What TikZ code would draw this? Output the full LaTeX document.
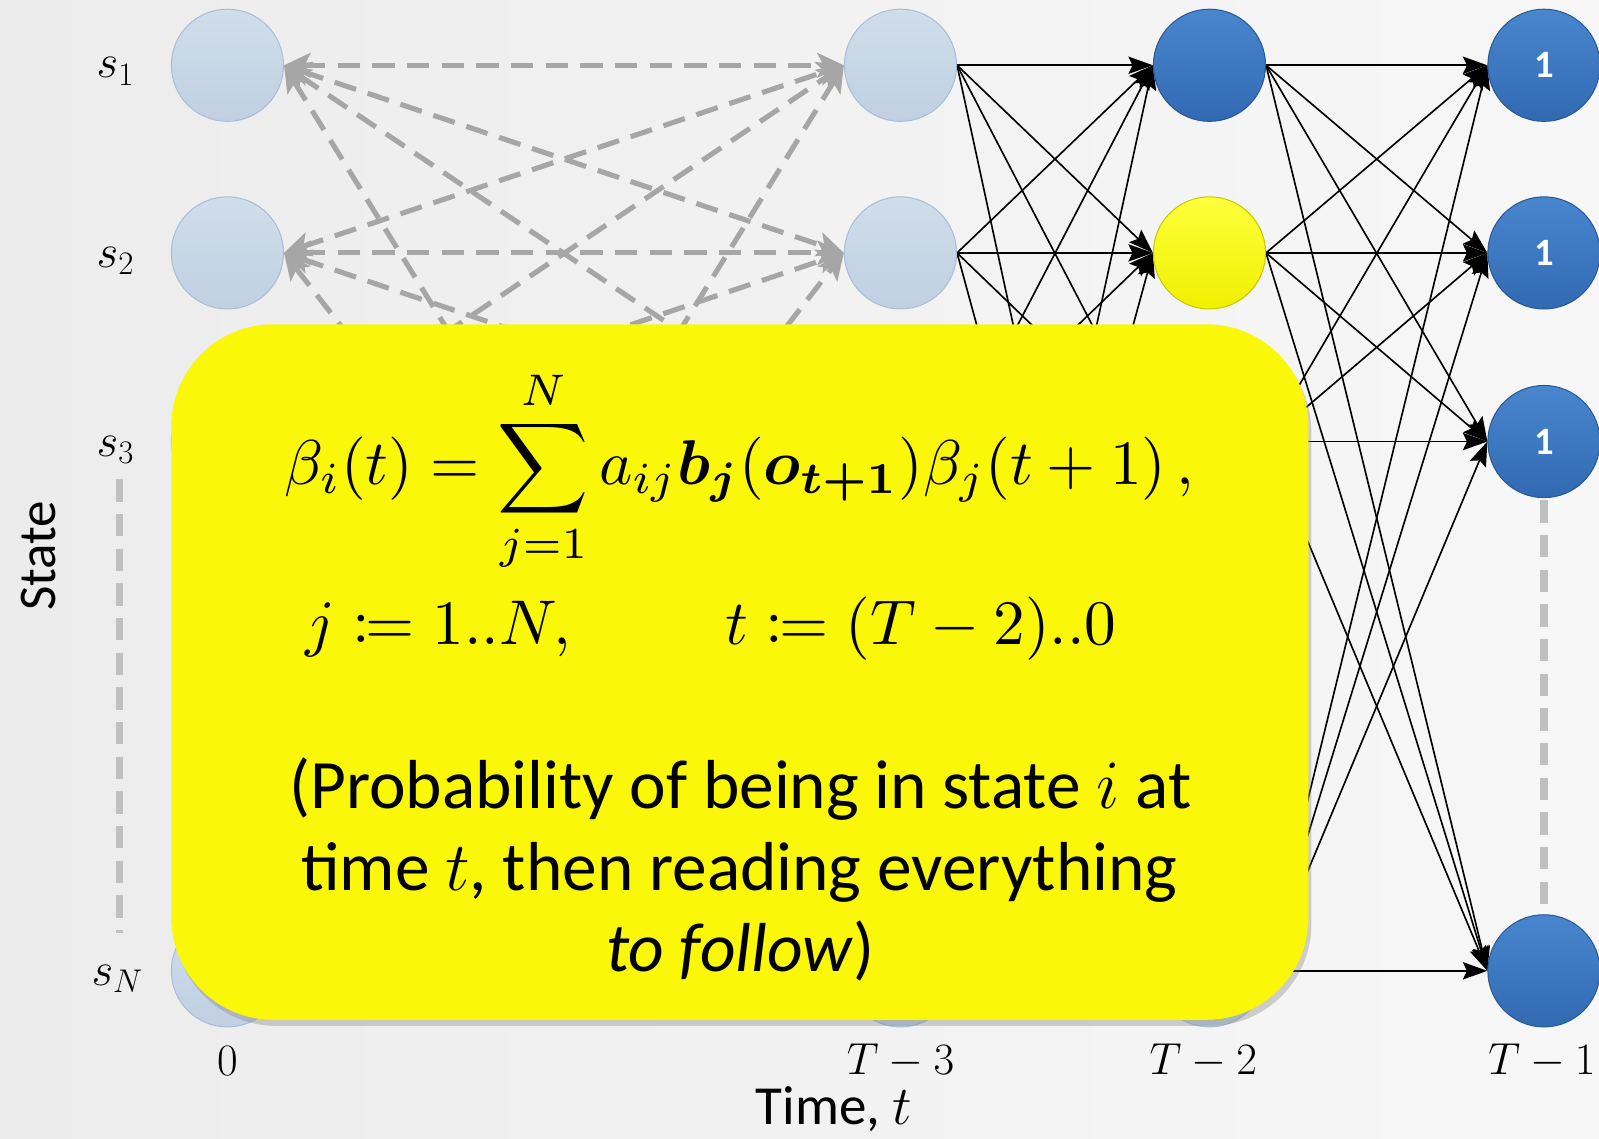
\RequirePackage{fix-cm}
\documentclass[tikz,border=0pt]{standalone}
\usepackage{amsmath,mathtools,bm}
\usepackage[no-math]{fontspec}
\setmainfont{Carlito}
\usetikzlibrary{arrows.meta,shadows}
\definecolor{bgL}{RGB}{236,236,236}
\definecolor{bgR}{RGB}{247,247,247}
\definecolor{liteT}{RGB}{208,221,234}
\definecolor{liteB}{RGB}{192,208,226}
\definecolor{liteD}{RGB}{168,190,214}
\definecolor{blueT}{RGB}{72,134,206}
\definecolor{blueB}{RGB}{50,106,178}
\definecolor{blueD}{RGB}{40,88,150}
\definecolor{yelT}{RGB}{255,255,60}
\definecolor{yelB}{RGB}{240,240,0}
\definecolor{boxY}{RGB}{250,248,8}
\definecolor{dashG}{RGB}{166,166,166}
\definecolor{vdashG}{RGB}{192,192,192}
\pgfdeclarelayer{bg}
\pgfsetlayers{bg,main}
\tikzset{
  st/.style={circle, minimum size=110pt, inner sep=0pt, line width=1pt},
  lite/.style={st, draw=liteD, top color=liteT, bottom color=liteB},
  bluen/.style={st, draw=blueD, top color=blueT, bottom color=blueB,
     font=\fontsize{38}{40}\selectfont\bfseries, text=white},
  yeln/.style={st, draw={rgb,255:red,200;green,200;blue,0}, top color=yelT, bottom color=yelB},
  gdash/.style={draw=dashG, line width=5pt, dash pattern=on 22pt off 12pt,
     {Stealth[length=26pt,width=24pt,inset=6pt]}-{Stealth[length=26pt,width=24pt,inset=6pt]}},
  barrow/.style={draw=black, line width=1.6pt, -{Stealth[length=24pt,width=17pt,inset=4pt]}},
  vdash/.style={draw=vdashG, line width=7pt, dash pattern=on 22pt off 12pt},
  slab/.style={font=\fontsize{46}{50}\selectfont},
  tlab/.style={font=\fontsize{44}{48}\selectfont},
  ybox/.style={fill=boxY, rounded corners=100pt,
     drop shadow={opacity=0.35, shadow xshift=3pt, shadow yshift=-6pt}},
  btxt/.style={anchor=base, font=\fontsize{68}{80}\selectfont},
  mtxt/.style={inner sep=0pt, scale=6.2, font=\fontsize{10}{12}\selectfont},
}
\begin{document}
\begin{tikzpicture}[x=1pt,y=-1pt]
\useasboundingbox (0,0) rectangle (1568,1116);
\begin{pgfonlayer}{bg}
\shade[left color=bgL, right color=bgR] (0,0) rectangle (1568,1116);
\end{pgfonlayer}

% state labels
\node[slab] (l1) at (113,70) {$s_1$};
\node[slab] (l2) at (113,256) {$s_2$};
\node[slab] (l3) at (113,441) {$s_3$};
\node[slab] (lN) at (115,960) {$s_N$};

% nodes
\node[lite] (a1) at (223,64) {};
\node[lite] (a2) at (223,248) {};
\node[lite] (a3) at (223,433) {};
\node[lite] (aN) at (223,952) {};
\node[lite] (b1) at (883,64) {};
\node[lite] (b2) at (883,248) {};
\node[lite] (b3) at (883,433) {};
\node[lite] (bN) at (883,952) {};
\node[bluen] (c1) at (1186,64) {};
\node[yeln] (c2) at (1186,248) {};
\node[bluen] (c3) at (1186,433) {};
\node[lite] (cN) at (1186,952) {};
\node[bluen] (d1) at (1514,64) {1};
\node[bluen] (d2) at (1514,248) {1};
\node[bluen] (d3) at (1514,433) {1};
\node[bluen] (dN) at (1514,952) {};

\coordinate (v1) at (117,470);
\coordinate (v2) at (117,915);
\begin{pgfonlayer}{bg}
\draw[vdash] (v1) -- (v2);
\draw[vdash, shorten <=2pt, shorten >=2pt] (d3.south) -- (dN.north);
\foreach \p in {1,2,3,N}{
  \foreach \q in {1,2,3,N}{
    \draw[gdash] (a\p.east) -- (b\q.west);
    \draw[barrow] (b\p.east) -- (c\q.west);
    \draw[barrow] (c\p.east) -- (d\q.west);
  }
}
\end{pgfonlayer}

% yellow box
\path[ybox] (168,318) rectangle (1283,1000);

% formula
\node[mtxt] (f1) at (725,462)
 {$\displaystyle \beta_i(t)=\sum_{j=1}^{N} a_{ij}\boldsymbol{b}_{\boldsymbol{j}}(\boldsymbol{o}_{\boldsymbol{t+1}})\beta_j(t+1)\,,$};
\node[mtxt, anchor=base] (f2) at (697,632)
 {$j\coloneqq 1{.}{.}N,\qquad\; t\coloneqq (T-2){.}{.}0$};
\node[btxt] (t1) at (726,793) {(Probability of being in state $i$ at};
\node[btxt] (t2) at (725,873) {time $t$, then reading everything};
\node[btxt] (t3) at (726,953) {\textit{to follow})};

% axis labels
\node[tlab] (x0) at (223,1040) {$0$};
\node[tlab] (x1) at (883,1040) {$T-3$};
\node[tlab] (x2) at (1180,1040) {$T-2$};
\node[tlab] (x3) at (1512,1040) {$T-1$};
\node[font=\fontsize{54}{60}\selectfont, anchor=base] (tx) at (818,1103) {Time, $t$};
\node[font=\fontsize{52}{55}\selectfont, rotate=90] (sy) at (38,545) {State};
\end{tikzpicture}
\end{document}
